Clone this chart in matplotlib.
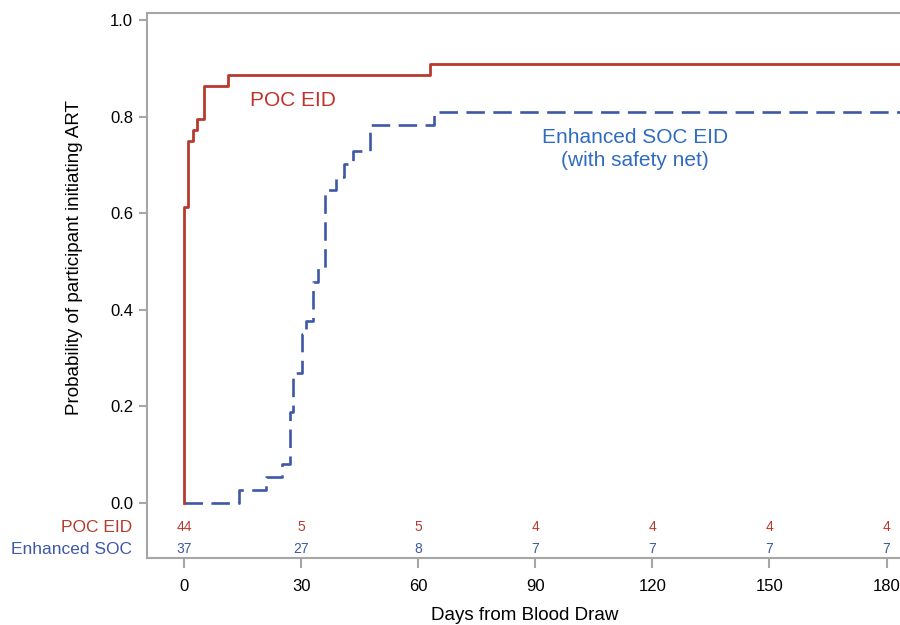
import matplotlib
matplotlib.use('Agg')
import matplotlib.pyplot as plt
import numpy as np

plt.rcParams['font.family'] = ['Liberation Sans', 'DejaVu Sans']

# step data (days, cumulative probability)
poc_days = [0, 0, 0.9, 2.2, 3.2, 5.2, 11.2, 63]
poc_prob = [0, 0.614, 0.750, 0.773, 0.795, 0.864, 0.886, 0.909]

soc_days = [0, 14, 21, 25, 27.2, 28, 30.2, 31.2, 33, 34.2, 36.2, 39, 41, 43.2, 47.7, 64]
soc_prob = [0, 0.027, 0.054, 0.081, 0.189, 0.270, 0.351, 0.378, 0.459, 0.486,
            0.649, 0.676, 0.703, 0.730, 0.784, 0.811]

end_day = 190

# number at risk table
risk_days = [0, 30, 60, 90, 120, 150, 180]
risk_poc = [44, 5, 5, 4, 4, 4, 4]
risk_soc = [37, 27, 8, 7, 7, 7, 7]

red = '#b83a2e'
blue = '#3e58a6'
blue_txt = '#2f6cbf'
grey = '#a6a6a6'

fig = plt.figure(figsize=(9, 6.25), dpi=100)
ax = fig.add_axes([147/900, 1-558/625, 1-147/900+0.002, (558-13)/625])

ax.plot(poc_days + [end_day], poc_prob + [poc_prob[-1]], drawstyle='steps-post',
        color=red, lw=2.0, zorder=3)
ax.plot(soc_days + [end_day], soc_prob + [soc_prob[-1]], drawstyle='steps-post',
        color=blue, lw=1.9, dashes=(7, 3.2), zorder=2)

ax.set_xlim(-9.5, 183.9)
ax.set_ylim(-0.114, 1.0155)

ax.set_xticks(risk_days)
ax.set_yticks(np.arange(0, 1.01, 0.2))
ax.set_yticklabels(['%.1f' % v for v in np.arange(0, 1.01, 0.2)])
ax.tick_params(axis='both', colors=grey, labelcolor='black', labelsize=12,
               length=6, width=1.5)
ax.tick_params(axis='x', pad=8, length=7)
ax.tick_params(axis='y', pad=4)

for s in ['left', 'bottom', 'top']:
    ax.spines[s].set_color(grey)
    ax.spines[s].set_linewidth(1.5)
ax.spines['right'].set_visible(False)

ax.set_ylabel('Probability of participant initiating ART', fontsize=13.5)
ax.yaxis.set_label_coords((83-147)/753, (558-258)/545)

# number at risk rows
for d, n in zip(risk_days, risk_poc):
    ax.text(d, -0.05, str(n), color=red, fontsize=10, ha='center', va='center')
for d, n in zip(risk_days, risk_soc):
    ax.text(d, -0.096, str(n), color=blue, fontsize=10, ha='center', va='center')
fig.text(132/900, 1-527/625, 'POC EID', color=red, fontsize=12.5, ha='right', va='center')
fig.text(132/900, 1-549/625, 'Enhanced SOC', color=blue, fontsize=12.5, ha='right', va='center')

# curve labels
ax.text(28, 0.834, 'POC EID', color='#c0322a', fontsize=15, ha='center', va='center')
ax.text(115.5, 0.734, 'Enhanced SOC EID\n(with safety net)', color=blue_txt,
        fontsize=15, ha='center', va='center', linespacing=1.25)

fig.text(525/900, 1-616/625, 'Days from Blood Draw', fontsize=13.5, ha='center', va='center')

fig.savefig('out.png', dpi=100)
